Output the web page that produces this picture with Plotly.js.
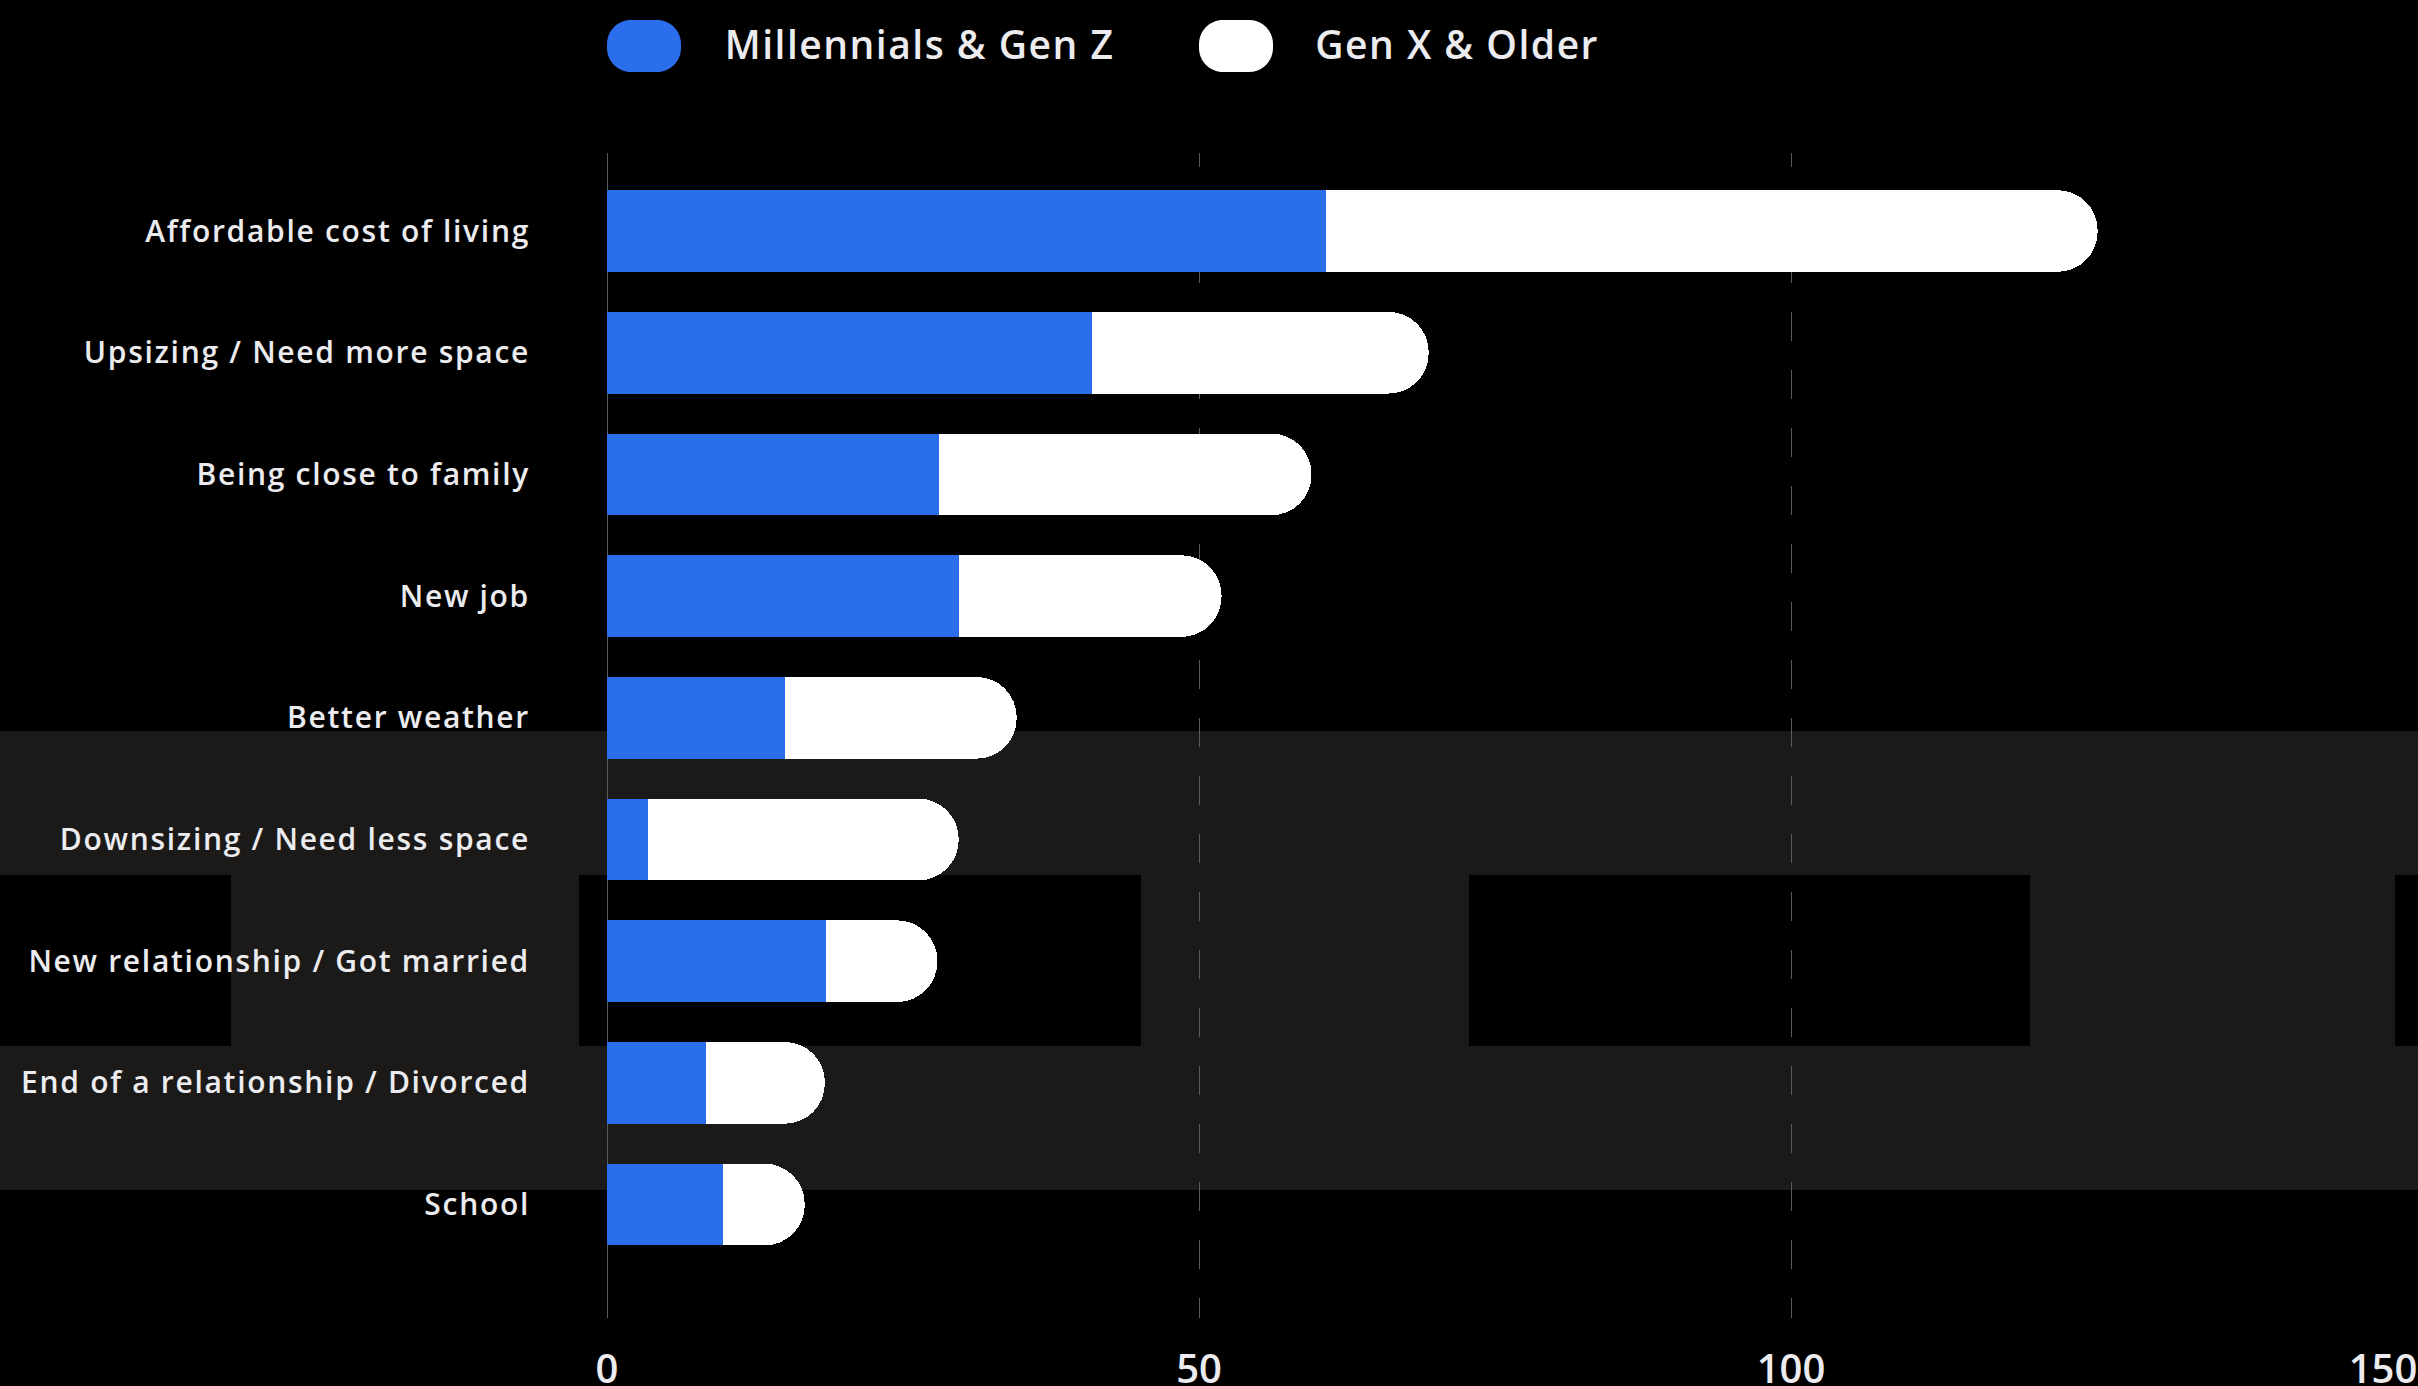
<!DOCTYPE html>
<html>
<head>
<meta charset="utf-8">
<script src="https://cdn.plot.ly/plotly-3.0.1.min.js"></script>
<style>
  html, body { margin: 0; padding: 0; background: #000; }
  #chart { width: 2418px; height: 1386px; }
  #chart .ytick text { letter-spacing: 1.7px; }
  #chart .annotation-text { letter-spacing: 1.5px; }
</style>
</head>
<body>
<div id="chart"></div>
<script>
// ---------- data ----------
const categories = [
  "Affordable cost of living",
  "Upsizing / Need more space",
  "Being close to family",
  "New job",
  "Better weather",
  "Downsizing / Need less space",
  "New relationship / Got married",
  "End of a relationship / Divorced",
  "School"
];
const seriesNames = ["Millennials & Gen Z", "Gen X & Older"];
const millennialsGenZ = [60.7, 41, 28, 29.7, 15, 3.5, 18.5, 8.4, 9.8];
const genXOlder      = [65.2, 28.4, 31.5, 22.2, 19.6, 26.2, 9.4, 10, 6.9];
const xTickValues = [0, 50, 100, 150];

// ---------- style / layout geometry ----------
const W = 2418, H = 1386;
const L = 607, R = 2383, T = 153, B = 1318;
const BLUE = "#2a6eec", WHITE = "#ffffff", TEXT = "#ececf0", GRID = "#5a5a5a";
const FONT = "Open Sans";

const px = x => (x - L) / (R - L);
const py = y => (B - y) / (B - T);

function pillPath(x0, y0, x1, y1, r) {
  const k = 0.5523 * r;
  const P = (x, y) => px(x).toFixed(5) + "," + py(y).toFixed(5);
  return "M" + P(x0 + r, y0) +
    " L" + P(x1 - r, y0) +
    " C" + P(x1 - r + k, y0) + " " + P(x1, y0 + r - k) + " " + P(x1, y0 + r) +
    " L" + P(x1, y1 - r) +
    " C" + P(x1, y1 - r + k) + " " + P(x1 - r + k, y1) + " " + P(x1 - r, y1) +
    " L" + P(x0 + r, y1) +
    " C" + P(x0 + r - k, y1) + " " + P(x0, y1 - r + k) + " " + P(x0, y1 - r) +
    " L" + P(x0, y0 + r) +
    " C" + P(x0, y0 + r - k) + " " + P(x0 + r - k, y0) + " " + P(x0 + r, y0) + " Z";
}

function rectPx(x0, y0, x1, y1, color) {
  return {
    type: "rect", xref: "paper", yref: "paper", layer: "below",
    x0: px(x0), x1: px(x1), y0: py(y1), y1: py(y0),
    fillcolor: color, line: { width: 0 }
  };
}

// dashed grid pattern (phase-shifted start)
const dashParts = [14];
for (let i = 0; i < 44; i++) dashParts.push(29);
const gridDash = dashParts.map(v => v + "px").join(",");

const traces = [
  {
    type: "bar", orientation: "h", name: seriesNames[0],
    y: categories, x: millennialsGenZ,
    marker: { color: BLUE, line: { width: 0 } },
    hoverinfo: "skip"
  },
  {
    type: "bar", orientation: "h", name: seriesNames[1],
    y: categories, x: genXOlder,
    marker: { color: WHITE, line: { width: 0 } },
    hoverinfo: "skip"
  }
];

const shapes = [
  rectPx(0, 731, W, 1190, "#1b1a19"),
  rectPx(0, 875, 231, 1046, "#000000"),
  rectPx(579, 875, 1141, 1046, "#000000"),
  rectPx(1469, 875, 2030, 1046, "#000000"),
  rectPx(2395, 875, W, 1046, "#000000"),
  { type: "path", xref: "paper", yref: "paper", layer: "above",
    path: pillPath(607, 20, 681, 72, 24), fillcolor: BLUE, line: { width: 0 } },
  { type: "path", xref: "paper", yref: "paper", layer: "above",
    path: pillPath(1199, 20, 1273, 72, 24), fillcolor: WHITE, line: { width: 0 } }
];

const annotations = [
  { xref: "paper", yref: "paper", x: px(737), y: py(43), xanchor: "left", yanchor: "middle",
    text: seriesNames[0], showarrow: false,
    font: { family: FONT, size: 39, weight: 600, color: TEXT } },
  { xref: "paper", yref: "paper", x: px(1323), y: py(43), xanchor: "left", yanchor: "middle",
    text: seriesNames[1], showarrow: false,
    font: { family: FONT, size: 39, weight: 600, color: TEXT } }
];

const layout = {
  width: W, height: H,
  margin: { l: L, r: W - R, t: T, b: H - B, pad: 0 },
  paper_bgcolor: "#000000",
  plot_bgcolor: "rgba(0,0,0,0)",
  showlegend: false,
  barmode: "stack",
  bargap: 0.329,
  barcornerradius: "50%",
  font: { family: FONT, color: TEXT },
  xaxis: {
    range: [0, 150],
    tickvals: xTickValues,
    ticktext: xTickValues.map(String),
    showgrid: true, gridcolor: GRID, gridwidth: 1, griddash: gridDash,
    zeroline: true, zerolinecolor: GRID, zerolinewidth: 1,
    showline: false, ticks: "",
    ticklabelstandoff: 24,
    tickfont: { family: FONT, size: 40, weight: 600, color: TEXT },
    fixedrange: true
  },
  yaxis: {
    type: "category",
    range: [8.932, -0.641],
    showgrid: false, zeroline: false, showline: false, ticks: "",
    ticklabelstandoff: 76,
    tickfont: { family: FONT, size: 30, weight: 600, color: TEXT },
    fixedrange: true
  },
  shapes: shapes,
  annotations: annotations
};

Plotly.newPlot("chart", traces, layout, { staticPlot: true, displayModeBar: false });
</script>
</body>
</html>
